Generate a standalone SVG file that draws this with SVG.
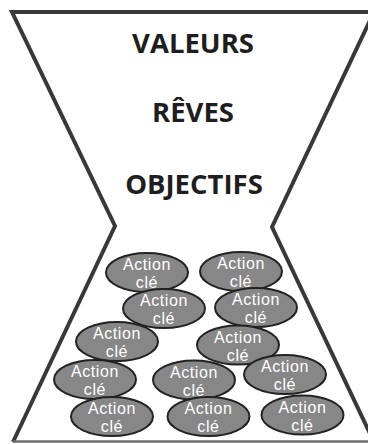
<svg xmlns="http://www.w3.org/2000/svg" width="368" height="444" viewBox="0 0 368 444">
<style>
.frame{fill:none;stroke:#383838;stroke-width:4;stroke-linejoin:miter}
.base{stroke:#6e6e6e;stroke-width:2.5}
.title{font-family:"Open Sans","Noto Sans","Liberation Sans",sans-serif;font-weight:bold;font-size:27.5px;fill:#1e1e1e;text-anchor:middle}
.act ellipse{fill:#878787;stroke:#222;stroke-width:2}
.act text{font-family:"Liberation Sans",Arial,sans-serif;font-size:16px;letter-spacing:0.6px;fill:#fff;text-anchor:middle}
</style>
<rect width="368" height="444" fill="#fff"/>
<g id="frame">
<path class="frame" d="M374,12 L12,12 L115,226 L13,442 M374,12 L272,227 L374,442"/>
<line class="base" x1="13" y1="441.5" x2="368" y2="441.5"/>
</g>
<g id="valeurs"><text class="title" x="193" y="53">VALEURS</text></g>
<g id="reves"><text class="title" x="193" y="122">RÊVES</text></g>
<g id="objectifs"><text class="title" x="194" y="194">OBJECTIFS</text></g>
<g id="action1" class="act"><ellipse cx="147" cy="272.5" rx="41" ry="19.5"/><text x="147" y="270">Action</text><text x="147" y="288">clé</text></g>
<g id="action2" class="act"><ellipse cx="241" cy="271.5" rx="41" ry="19.5"/><text x="241" y="269">Action</text><text x="241" y="287">clé</text></g>
<g id="action3" class="act"><ellipse cx="164" cy="308.5" rx="41" ry="19.5"/><text x="164" y="306">Action</text><text x="164" y="324">clé</text></g>
<g id="action4" class="act"><ellipse cx="256" cy="307.5" rx="41" ry="19.5"/><text x="256" y="305">Action</text><text x="256" y="323">clé</text></g>
<g id="action5" class="act"><ellipse cx="117" cy="341.5" rx="41" ry="19.5"/><text x="117" y="339">Action</text><text x="117" y="357">clé</text></g>
<g id="action6" class="act"><ellipse cx="238" cy="345" rx="41" ry="19.5"/><text x="238" y="342.5">Action</text><text x="238" y="360.5">clé</text></g>
<g id="action7" class="act"><ellipse cx="95" cy="379.5" rx="41" ry="19.5"/><text x="95" y="377">Action</text><text x="95" y="395">clé</text></g>
<g id="action8" class="act"><ellipse cx="194" cy="380" rx="41" ry="19.5"/><text x="194" y="377.5">Action</text><text x="194" y="395.5">clé</text></g>
<g id="action9" class="act"><ellipse cx="285" cy="374.5" rx="41" ry="19.5"/><text x="285" y="372">Action</text><text x="285" y="390">clé</text></g>
<g id="action10" class="act"><ellipse cx="112" cy="416.5" rx="41" ry="19.5"/><text x="112" y="414">Action</text><text x="112" y="432">clé</text></g>
<g id="action11" class="act"><ellipse cx="208.5" cy="416.5" rx="41" ry="19.5"/><text x="208.5" y="414">Action</text><text x="208.5" y="432">clé</text></g>
<g id="action12" class="act"><ellipse cx="302.5" cy="415" rx="41" ry="19.5"/><text x="302.5" y="412.5">Action</text><text x="302.5" y="430.5">clé</text></g>
</svg>
